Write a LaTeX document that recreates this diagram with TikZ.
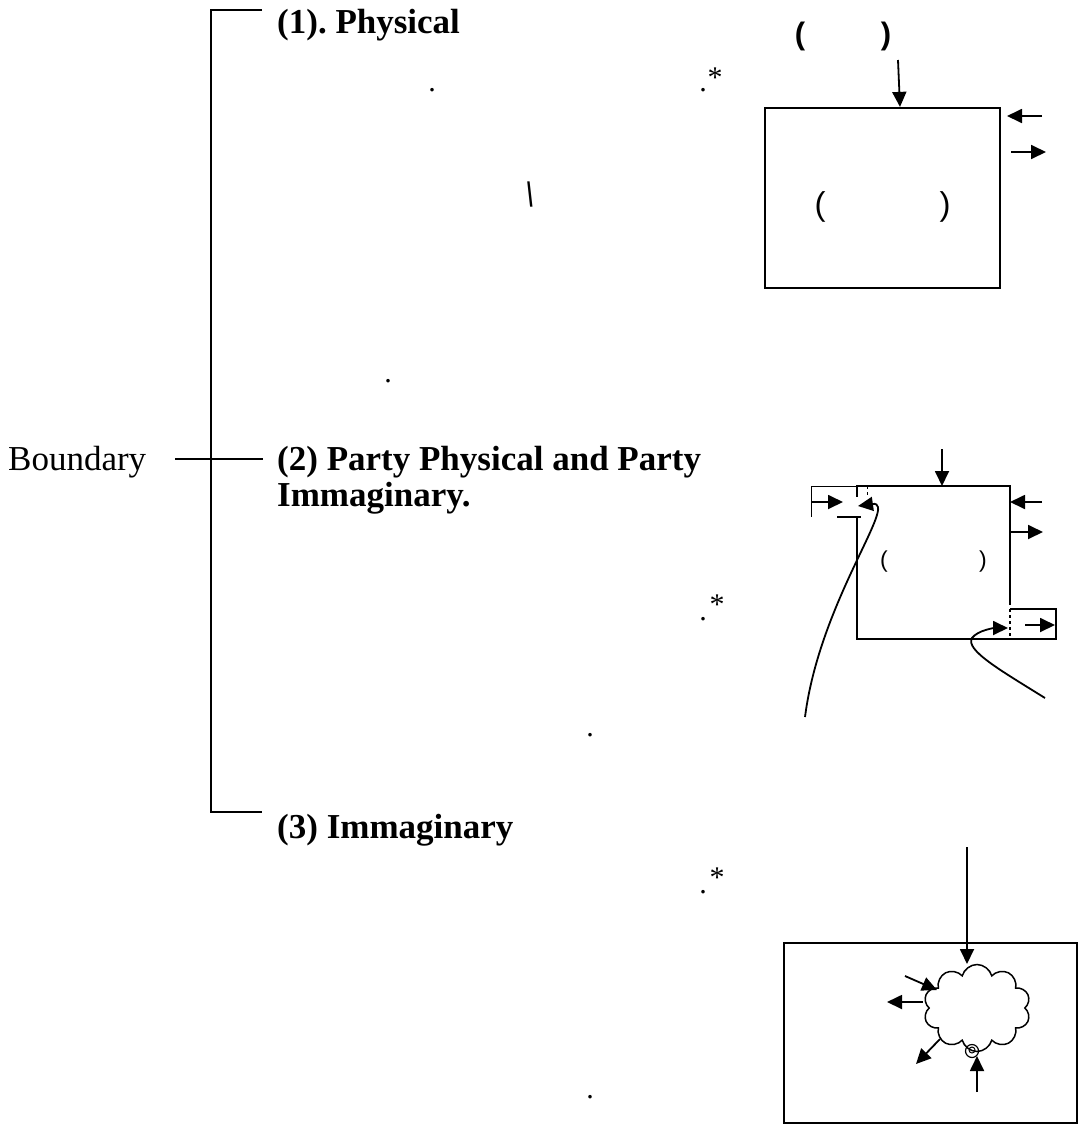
\documentclass[tikz,border=0pt]{standalone}
\usepackage{fontspec}
\setmainfont{Liberation Serif}
\newfontfamily\parenfont{Liberation Sans}
\frenchspacing
\usetikzlibrary{arrows.meta,positioning,shapes.symbols}
\tikzset{
    heading/.style = {
        anchor=base west,
        inner sep=0pt,
        align=left,
        font=\fontsize{35}{36}\selectfont\bfseries,
        },
    plain/.style = {
        anchor=base west,
        inner sep=0pt,
        font=\fontsize{35}{36}\selectfont,
        },
    spine/.style = {
        line width=2.2pt,
        },
    box/.style = {
        draw,
        line width=2.2pt,
        },
    flow/.style = {
        line width=1.8pt,
        -{Triangle[length=15pt,width=14pt]},
        },
    stray/.style = {
        inner sep=0pt,
        font=\fontsize{30}{30}\selectfont,
        },
    paren/.style = {
        inner sep=0pt,
        font=\parenfont\fontsize{33}{33}\selectfont,
        },
    bold paren/.style = {
        paren,
        font=\parenfont\fontsize{31}{31}\selectfont\bfseries,
        },
}

\begin{document}
\begin{tikzpicture}[x=1pt,y=-1pt]
    \useasboundingbox (0,0) rectangle (1078,1130);

    % the three kinds of boundary
    \node[plain] (bnd) at (8,470) {Boundary};
    \node[heading] (phys) at (277,33) {(1). Physical};
    \node[heading] (party) at (277,506) {(2) Party Physical and Party\\Immaginary.};
    \node[heading] (imag) at (277,838) {(3) Immaginary};

    \coordinate (s top) at (211,10);
    \coordinate (s bot) at (211,812);
    \coordinate (c top) at (262,10);
    \coordinate (c bot) at (262,812);
    \coordinate (b mid) at (175,459);
    \coordinate (c mid) at (263,459);
    \draw[spine] (c top) -- (s top) -- (s bot) -- (c bot);
    \draw[spine] (b mid) -- (c mid);

    % loose marks in the text
    \node[stray] (d1) at (432,90) {.};
    \node[stray] (d2) at (703,90) {.};
    \node[stray] (a1) at (715,78) {*};
    \node[paren, xscale=0.6, font=\parenfont\fontsize{34}{34}\selectfont\bfseries] (bs) at (530,195) {\textbackslash};
    \node[stray] (d3) at (388,381) {.};
    \node[stray] (d4) at (703,619) {.};
    \node[stray] (a2) at (717,605) {*};
    \node[stray] (d5) at (590,735) {.};
    \node[stray] (d6) at (703,892) {.};
    \node[stray] (a3) at (717,878) {*};
    \node[stray] (d7) at (590,1097) {.};

    % physical boundary
    \node[bold paren] (p1) at (800,36) {(};
    \node[bold paren] (p2) at (886,36) {)};
    \node[box, inner sep=0pt, minimum width=235pt, minimum height=180pt] (room) at (882.5,198) {};
    \node[paren] (p3) at (820,207) {(};
    \node[paren] (p4) at (945,207) {)};
    \draw[flow] (898,60) -- ([xshift=17.5pt]room.north);
    \draw[flow] (1042,116) -- (1007,116);
    \draw[flow] (1011,152) -- (1046,152);

    % partly physical boundary
    \draw[box] (1010,605) -- (1010,486) -- (857,486) -- (857,497);
    \draw[box] (857,516) -- (857,639) -- (1056,639) -- (1056,609) -- (1010,609);
    \draw[box, dashed] (1010,609) -- (1010,639);
    \draw[line width=0.8pt] (857,486) -- (811,486) -- (811,517);
    \draw[box] (837,517) -- (861,517);
    \draw[line width=1pt, dash pattern=on 3pt off 3pt] (867,486) -- (867,496);
    \node[paren, font=\parenfont\fontsize{23}{23}\selectfont] (p5) at (884,562) {(};
    \node[paren, font=\parenfont\fontsize{23}{23}\selectfont] (p6) at (983,562) {)};
    \draw[flow] (942,449) -- (942,486);
    \draw[flow] (1042,502) -- (1010,502);
    \draw[flow] (1010,532) -- (1043,532);
    \draw[flow] (811,502) -- (843,502);
    \draw[flow] (1025,625) -- (1055,625);
    \draw[flow] (805,717) .. controls (820,600) and (900,500) .. (858,506);
    \draw[flow] (1045,698) .. controls (1000,670) and (965,650) .. (972,638)
        .. controls (978,630) and (995,628) .. (1008,628);

    % imaginary boundary
    \node[box, inner sep=0pt, minimum width=293pt, minimum height=180pt] (field) at (930.5,1033) {};
    \node[cloud, draw, line width=1.5pt, cloud puffs=10, aspect=1.25,
          minimum width=107pt, minimum height=87pt] (idea) at (977,1008) {};
    \draw[flow] (967,847) -- (967,964);
    \draw[flow] (905,976) -- (937,990);
    \draw[flow] (923,1002) -- (887,1002);
    \draw[flow] (940,1039) -- (916,1064);
    \draw[flow] (977,1092) -- (977,1056);
    \draw[line width=1.2pt] (972,1051) circle (6.5pt);
    \draw[line width=1pt] (972,1050) circle (3pt);
\end{tikzpicture}
\end{document}
